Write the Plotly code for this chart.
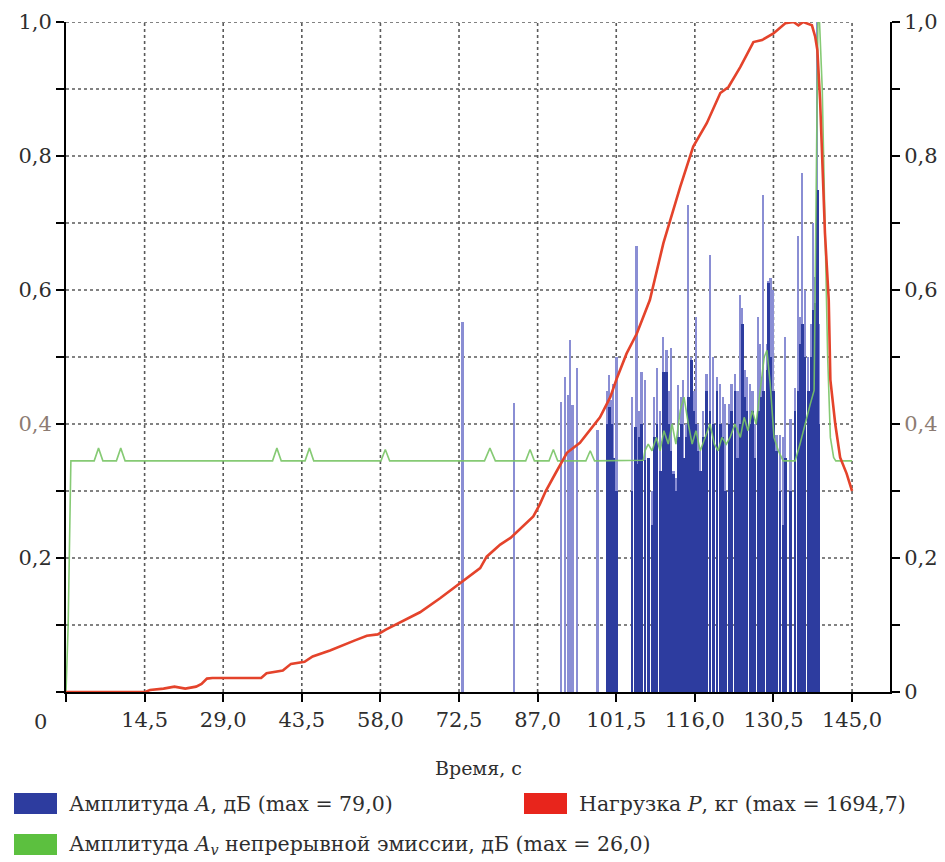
import plotly.graph_objects as go

# ---------------- data ----------------
hit_time = [73.2, 82.7, 91.3, 92.1, 92.6, 93.05, 93.5, 94.3, 98.1,
            99.8, 100.2, 100.6, 101.0, 101.6, 104.4, 105.0, 105.3, 105.8, 106.2,
            106.8, 107.4, 108.1, 108.5, 109.0, 109.6, 110.2, 110.8, 111.2, 111.6,
            112.1, 112.5, 113.0, 113.5, 113.9, 114.4, 114.8, 115.4, 115.8, 116.2,
            116.6, 117.0, 117.6, 118.2, 118.8, 119.4, 120.1, 120.7, 121.2, 121.6,
            122.3, 122.8, 123.4, 123.9, 124.4, 124.8, 125.2, 125.6, 126.2, 126.7,
            127.1, 127.7, 128.0, 128.3, 128.6, 129.3, 129.6, 130.0, 130.5, 131.1,
            131.7, 132.3, 132.7, 133.7, 134.5, 135.1, 135.5, 135.8, 136.3, 136.9,
            137.5, 137.9, 138.3, 138.6, 138.9]
hit_peak = [0.552, 0.431, 0.433, 0.47, 0.443, 0.525, 0.428, 0.483, 0.391,
            0.45, 0.473, 0.436, 0.46, 0.50, 0.44, 0.396, 0.665, 0.42, 0.478,
            0.466, 0.35, 0.30, 0.44, 0.483, 0.42, 0.53, 0.51, 0.45, 0.513,
            0.33, 0.32, 0.458, 0.44, 0.466, 0.40, 0.727, 0.50, 0.45, 0.56,
            0.40, 0.36, 0.42, 0.475, 0.652, 0.50, 0.47, 0.46, 0.44, 0.43,
            0.43, 0.46, 0.475, 0.45, 0.593, 0.573, 0.48, 0.47, 0.46, 0.45,
            0.40, 0.56, 0.52, 0.47, 0.742, 0.52, 0.613, 0.618, 0.60, 0.383,
            0.383, 0.38, 0.53, 0.407, 0.453, 0.68, 0.56, 0.775, 0.60, 0.50,
            0.55, 0.70, 0.62, 1.0, 0.55]
hit_dense = [0, 0, 0, 0, 0, 0, 0, 0, 0,
             0.40, 0.426, 0.40, 0.35, 0.30, 0.30, 0.396, 0.34, 0.38, 0.40,
             0.346, 0.35, 0.25, 0.38, 0.40, 0.33, 0.478, 0.478, 0.40, 0.36,
             0.326, 0.30, 0.38, 0.40, 0.35, 0.38, 0.44, 0.495, 0.42, 0.40,
             0.36, 0.33, 0.38, 0.45, 0.42, 0.40, 0.45, 0.40, 0.38, 0.30,
             0.40, 0.42, 0.45, 0.35, 0.40, 0.55, 0.44, 0.42, 0.40, 0.42,
             0.35, 0.42, 0.40, 0.44, 0.45, 0.48, 0.61, 0.50, 0.45, 0.36,
             0.30, 0.25, 0.35, 0.30, 0.42, 0.45, 0.52, 0.55, 0.50, 0.45,
             0.50, 0.57, 0.58, 0.75, 0.40]

av_time = [0, 0.4, 0.9, 5.2, 6.0, 6.8, 9.3, 10.1, 10.9, 38.1, 38.9, 39.7,
           44.1, 44.9, 45.7, 58.1, 58.9, 59.7, 77.2, 78.2, 79.2, 84.8, 85.6, 86.4,
           89.1, 89.9, 90.7, 95.9, 96.7, 97.5, 106.5, 106.8, 107.4, 108.1, 108.9,
           109.6, 110.3, 111.1, 111.8, 112.5, 113.3, 114.0, 114.8, 115.5, 116.2,
           117.0, 117.9, 118.8, 119.6, 120.3, 121.0, 121.8, 122.5, 123.4, 124.4,
           125.1, 125.8, 126.6, 127.3, 128.0, 128.8, 129.3, 129.9, 130.6, 131.4,
           132.3, 134.5, 135.4, 136.3, 137.3, 138.0, 138.4, 138.7, 139.0, 139.5,
           140.0, 140.5, 141.0, 141.6, 142.0, 145.0]
av_value = [0, 0.1, 0.345, 0.345, 0.364, 0.345, 0.345, 0.364, 0.345, 0.345, 0.364, 0.345,
            0.345, 0.364, 0.345, 0.345, 0.362, 0.345, 0.345, 0.364, 0.345, 0.345, 0.362, 0.345,
            0.345, 0.362, 0.345, 0.345, 0.36, 0.345, 0.346, 0.36, 0.37, 0.36, 0.38,
            0.36, 0.39, 0.37, 0.40, 0.37, 0.42, 0.44, 0.40, 0.37, 0.39,
            0.36, 0.38, 0.40, 0.37, 0.36, 0.38, 0.37, 0.38, 0.40, 0.38,
            0.41, 0.39, 0.42, 0.40, 0.45, 0.50, 0.51, 0.46, 0.38, 0.36,
            0.345, 0.345, 0.37, 0.40, 0.43, 0.45, 0.80, 1.0, 1.0, 0.9,
            0.7, 0.5, 0.38, 0.35, 0.345, 0.345]

load_time = [0, 14.6, 15.5, 18, 20, 22, 24, 25, 26, 27, 36, 37, 40, 41.5, 44, 45.5,
             48.7, 51, 53.3, 55.5, 57.5, 59, 61.6, 65.3, 69, 72.7, 76.4, 77.6, 80.1,
             82, 86.2, 87.4, 88.5, 90.2, 91.2, 92.4, 94.8, 96.5, 98.5, 100.4, 101.6,
             103.4, 105.3, 107.7, 110.2, 113.3, 115.7, 118.2, 120.7, 122.2, 124.4,
             126.8, 128.4, 130.5, 132.7, 134.2, 135.1, 136.0, 137.6, 138.2, 138.6,
             139.1, 139.4, 140.0, 140.7, 141.0, 141.9, 142.8, 144.0, 145.0]
load_value = [0, 0, 0.003, 0.005, 0.008, 0.005, 0.008, 0.012, 0.02, 0.021, 0.021, 0.028,
              0.032, 0.042, 0.045, 0.053, 0.062, 0.07, 0.077, 0.084, 0.086, 0.093, 0.104,
              0.119, 0.14, 0.163, 0.185, 0.202, 0.22, 0.23, 0.262, 0.28, 0.30, 0.325,
              0.34, 0.357, 0.372, 0.39, 0.41, 0.44, 0.468, 0.505, 0.535, 0.585, 0.67,
              0.754, 0.814, 0.849, 0.894, 0.903, 0.933, 0.97, 0.973, 0.983, 0.998, 1.0,
              0.995, 1.0, 0.995, 0.978, 0.958, 0.884, 0.81, 0.685, 0.585, 0.466, 0.40,
              0.35, 0.326, 0.30]

x_ticks = [14.5, 29.0, 43.5, 58.0, 72.5, 87.0, 101.5, 116.0, 130.5, 145.0]
x_ticktext = ["14,5", "29,0", "43,5", "58,0", "72,5", "87,0", "101,5", "116,0", "130,5", "145,0"]
y_ticks = [0, 0.1, 0.2, 0.3, 0.4, 0.5, 0.6, 0.7, 0.8, 0.9, 1.0]
y_left_text = ["", "", "0,2", "", "0,4", "", "0,6", "", "0,8", "", "1,0"]
y_right_text = ["0", "", "0,2", "", "0,4", "", "0,6", "", "0,8", "", "1,0"]

legend_labels = ["Амплитуда <i>A</i>, дБ (max = 79,0)",
                 "Нагрузка <i>P</i>, кг (max = 1694,7)",
                 "Амплитуда <i>A</i><sub><i>v</i></sub> непрерывной эмиссии, дБ (max = 26,0)"]

# ---------------- styles ----------------
FONT = "DejaVu Serif"
C_LIGHT = "#8a8ed4"
C_DARK = "#2d3c9f"
C_GREEN = "#79c566"
C_RED = "#e4432b"
C_GRID = "#5a5a5a"
C_TEXT = "#2e2e2e"
C_GREY_LABEL = "#8c7b72"

def colour_label(t):
    if t == "0,4":
        return f"<span style='color:{C_GREY_LABEL}'>{t}</span>"
    return t

OFF = 8
W, H = 945, 862
PL, PR, PT, PB = 66, 890, 22, 692
L, T = PL - OFF, PT - OFF
R, B = W - (PR - OFF), H - (PB - OFF)
pw, ph = W - L - R, H - T - B

def px_to_paper(x, y):
    return (x - OFF - L) / pw, (H - B - (y - OFF)) / ph

fig = go.Figure()
fig.add_trace(go.Bar(x=hit_time, y=hit_peak, width=0.33, marker=dict(color=C_LIGHT, line=dict(width=0)),
                     name="Амплитуда A (пики)", showlegend=False))
fig.add_trace(go.Bar(x=hit_time, y=hit_dense, width=0.5, marker=dict(color=C_DARK, line=dict(width=0)),
                     name="Амплитуда A", showlegend=False))
fig.add_trace(go.Scatter(x=av_time, y=av_value, mode="lines", line=dict(color=C_GREEN, width=1.6),
                         name="Амплитуда Av", showlegend=False, opacity=0.9))
fig.add_trace(go.Scatter(x=load_time, y=load_value, mode="lines", line=dict(color=C_RED, width=2.6),
                         name="Нагрузка P", showlegend=False))
fig.add_trace(go.Scatter(x=[0], y=[0], yaxis="y2", mode="markers", marker=dict(opacity=0),
                         showlegend=False, hoverinfo="skip"))

shapes = []
for xv in x_ticks:
    shapes.append(dict(type="line", xref="x", yref="y", x0=xv, x1=xv, y0=0, y1=1,
                       line=dict(color=C_GRID, width=1.6, dash="dot"), layer="below"))
for yv in y_ticks[1:]:
    shapes.append(dict(type="line", xref="x", yref="y", x0=0, x1=x_ticks[-1], y0=yv, y1=yv,
                       line=dict(color=C_GRID, width=1.6, dash="dot"), layer="below"))

annotations = []
legend_cols = [C_DARK, "#e8251c", "#5cc03f"]
legend_boxes = [(14, 793, 57, 814), (524, 793, 567, 814), (14, 834, 57, 855)]
legend_text_x = [67, 577, 67]
for (x0, y0, x1, y1), col, tx, lab in zip(legend_boxes, legend_cols, legend_text_x, legend_labels):
    a0, b0 = px_to_paper(x0, y1)
    a1, b1 = px_to_paper(x1, y0)
    shapes.append(dict(type="rect", xref="paper", yref="paper", x0=a0, x1=a1, y0=b0, y1=b1,
                       fillcolor=col, line=dict(width=0)))
    ax, ay = px_to_paper(tx, (y0 + y1) / 2)
    annotations.append(dict(xref="paper", yref="paper", x=ax, y=ay, xanchor="left", yanchor="middle",
                            text=lab, showarrow=False, font=dict(family=FONT, size=20.5, color=C_TEXT)))

tx, ty = px_to_paper(478, 768)
annotations.append(dict(xref="paper", yref="paper", x=tx, y=ty, text="Время, с", showarrow=False,
                        xanchor="center", yanchor="middle", font=dict(family=FONT, size=19, color=C_TEXT)))
ox, oy = px_to_paper(40, 722)
annotations.append(dict(xref="paper", yref="paper", x=ox, y=oy, text="0", showarrow=False,
                        xanchor="center", yanchor="middle", font=dict(family=FONT, size=21, color=C_TEXT)))

axis_common = dict(showgrid=False, zeroline=False, showline=True, linecolor="black", linewidth=2,
                   ticks="outside", ticklen=8, tickwidth=2, tickcolor="black",
                   tickfont=dict(family=FONT, size=21, color=C_TEXT))

fig.update_layout(
    width=W, height=H,
    margin=dict(l=L, r=R, t=T, b=B, autoexpand=False),
    paper_bgcolor="white", plot_bgcolor="white",
    barmode="overlay", bargap=0,
    font=dict(family=FONT, size=20, color=C_TEXT),
    xaxis=dict(range=[0, 152], tickvals=[0] + x_ticks, ticktext=[""] + x_ticktext, **axis_common),
    yaxis=dict(range=[0, 1], tickvals=y_ticks, ticktext=[colour_label(t) for t in y_left_text],
               **axis_common),
    yaxis2=dict(range=[0, 1], overlaying="y", side="right", anchor="x",
                tickvals=y_ticks, ticktext=[colour_label(t) for t in y_right_text], **axis_common),
    showlegend=False,
    shapes=shapes, annotations=annotations,
)
fig.write_html("out.html")
